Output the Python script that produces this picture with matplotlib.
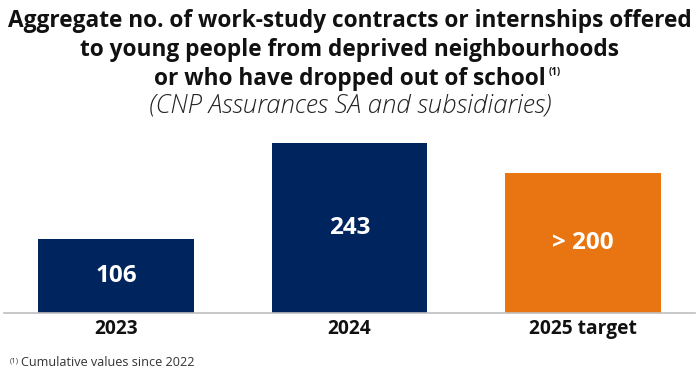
import matplotlib
matplotlib.use("Agg")
import matplotlib.pyplot as plt

categories = ["2023", "2024", "2025 target"]
values = [106, 243, 200]
value_labels = ["106", "243", "> 200"]
colors = ["#00245D", "#00245D", "#E87511"]

plt.rcParams['font.family'] = ['Open Sans', 'DejaVu Sans']

fig = plt.figure(figsize=(7, 3.91), dpi=100)
ax = fig.add_axes([4/700, 78/391, 691/700, 178/391])
x = list(range(len(categories)))
ax.bar(x, values, width=0.668, color=colors)
ax.set_xlim(-0.48, 2.48)
ax.set_ylim(0, 254.4)
for s in ["top", "right", "left"]:
    ax.spines[s].set_visible(False)
ax.spines["bottom"].set_color("#BFBFBF")
ax.spines["bottom"].set_linewidth(1.2)
ax.set_yticks([])
ax.set_xticks(x)
ax.set_xticklabels(categories, fontsize=13.8, fontweight="bold", color="#111111")
ax.tick_params(axis="x", length=0, pad=4)
for xi, v, lab in zip(x, values, value_labels):
    ax.text(xi, v / 2, lab, ha="center", va="center", color="white",
            fontsize=17.5, fontweight="bold")

tkw = dict(ha="center", va="center", fontsize=16.3, fontweight="bold", color="#111111")
fig.text(0.5, 1 - 21/391, "Aggregate no. of work-study contracts or internships offered", **tkw)
fig.text(0.5, 1 - 50/391, "to young people from deprived neighbourhoods", **tkw)
t3 = fig.text(0.5, 1 - 79/391, "or who have dropped out of school", **tkw)
fig.text(0.5, 1 - 106/391, "(CNP Assurances SA and subsidiaries)", ha="center", va="center",
         fontsize=18.5, style="italic", fontweight="light", color="#222222")

fig.canvas.draw()
r = fig.canvas.get_renderer()
bb = t3.get_window_extent(r)
fig.text((bb.x1 + 3) / 700, 1 - 72/391, "(1)", ha="left", va="center",
         fontsize=7, fontweight="bold", color="#111111")

fn = fig.text(10/700, 1 - 361/391, "(1)", ha="left", va="center", fontsize=5.5, color="#333333")
fig.canvas.draw()
bb2 = fn.get_window_extent(r)
fig.text((bb2.x1 + 2) / 700, 1 - 363/391, "Cumulative values since 2022", ha="left",
         va="center", fontsize=9.1, color="#333333")

fig.savefig("out.png", dpi=100)
